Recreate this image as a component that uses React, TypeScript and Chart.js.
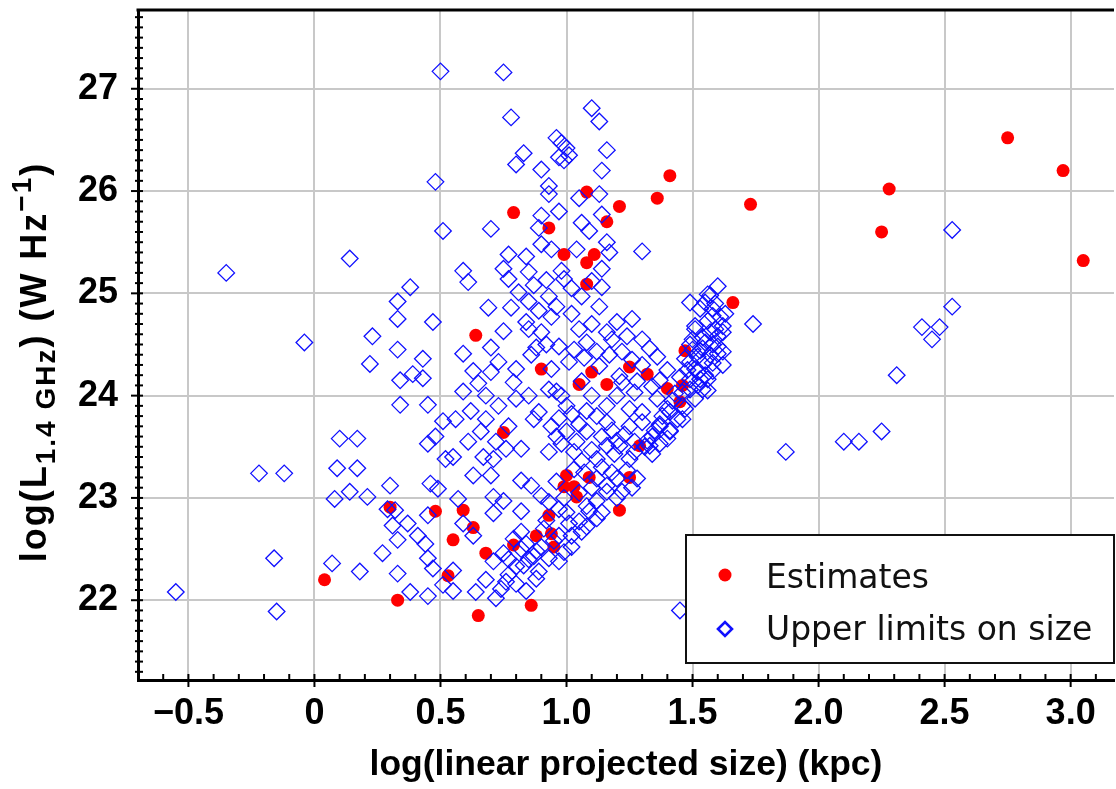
import { useEffect, useRef } from 'react';
import { Chart, registerables } from 'chart.js';

Chart.register(...registerables);

const seriesNames = ['Estimates', 'Upper limits on size'];
const xTickValues = [-0.5, 0, 0.5, 1.0, 1.5, 2.0, 2.5, 3.0];
const xTickLabels = ['−0.5', '0', '0.5', '1.0', '1.5', '2.0', '2.5', '3.0'];
const yTickValues = [22, 23, 24, 25, 26, 27];
const yTickLabels = ['22', '23', '24', '25', '26', '27'];
const xRange = [-0.70, 3.172];
const yRange = [21.22, 27.77];
const xTitle = 'log(linear projected size) (kpc)';

// [log size (kpc), log L_1.4GHz]
const estimates: [number, number][] = [
  [0.04, 22.20], [0.33, 22.00], [0.30, 22.91], [0.48, 22.87],
  [0.53, 22.24], [0.55, 22.59], [0.59, 22.88], [0.63, 22.71], [0.68, 22.46], [0.65, 21.85], [0.86, 21.95],
  [1.00, 23.22], [0.99, 23.11], [1.03, 23.11], [1.04, 23.01], [1.09, 23.20], [1.25, 23.20], [1.29, 23.51],
  [1.21, 22.88], [0.93, 22.83], [0.88, 22.63], [0.94, 22.65], [0.95, 22.52], [0.79, 22.54],
  [0.99, 25.38], [1.08, 25.30], [1.11, 25.38], [1.08, 25.09], [1.66, 24.91], [0.64, 24.59], [0.90, 24.26],
  [1.47, 24.44], [1.25, 24.28], [1.32, 24.21], [1.10, 24.23], [1.05, 24.11], [1.16, 24.11], [1.40, 24.07],
  [1.46, 24.10], [1.45, 23.94], [0.75, 23.64],
  [1.41, 26.15], [1.36, 25.93], [1.21, 25.85], [1.08, 25.99], [0.79, 25.79], [1.73, 25.87], [1.16, 25.70], [0.93, 25.64],
  [2.75, 26.52], [2.28, 26.02], [2.97, 26.20], [2.25, 25.60], [3.05, 25.32],
];

const upperLimits: [number, number][] = [
  // sparse left / top
  [0.50, 27.17], [0.75, 27.16], [0.78, 26.72], [0.80, 26.26], [0.83, 26.37], [0.48, 26.09], [0.51, 25.61], [0.70, 25.63],
  [-0.35, 25.20], [0.14, 25.34], [0.38, 25.06], [0.33, 24.92], [0.33, 24.75], [0.47, 24.72], [0.23, 24.58], [-0.04, 24.52],
  [0.33, 24.45], [0.43, 24.36], [0.22, 24.31], [0.34, 24.15], [0.39, 24.21], [0.43, 24.17], [0.34, 23.91], [0.45, 23.91],
  [0.51, 23.75], [0.10, 23.58], [0.17, 23.58], [0.45, 23.53], [0.48, 23.60],
  [0.52, 23.38], [-0.22, 23.24], [-0.12, 23.24], [0.09, 23.29], [0.17, 23.29], [0.30, 23.12], [0.46, 23.14], [0.49, 23.09],
  [0.08, 22.99], [0.14, 23.06], [0.21, 23.01], [0.29, 22.89], [0.32, 22.88], [0.45, 22.83], [0.31, 22.73], [0.37, 22.75],
  [0.41, 22.63], [0.33, 22.59], [0.44, 22.55], [0.27, 22.46], [0.45, 22.41], [0.47, 22.31], [0.07, 22.36], [-0.16, 22.41],
  [0.18, 22.28], [0.33, 22.26], [0.51, 22.15], [-0.55, 22.08], [0.38, 22.08], [0.45, 22.04], [-0.15, 21.89],
  // upper middle
  [1.10, 26.81], [1.13, 26.68], [0.96, 26.52], [1.00, 26.42], [0.97, 26.33], [1.16, 26.40], [0.98, 26.47], [1.01, 26.35],
  [0.99, 26.30], [0.90, 26.21], [1.14, 26.20], [0.93, 26.05], [0.93, 25.97], [1.05, 25.93], [1.13, 25.97], [0.97, 25.80],
  [0.90, 25.76], [0.89, 25.64], [1.06, 25.69], [1.14, 25.77], [1.09, 25.61],
  // middle
  [0.90, 25.48], [0.94, 25.43], [1.04, 25.43], [1.16, 25.50], [1.17, 25.40], [1.30, 25.41], [0.77, 25.38], [0.84, 25.36],
  [0.59, 25.22], [0.61, 25.11], [0.75, 25.24], [0.77, 25.14], [0.85, 25.21], [0.98, 25.22], [0.99, 25.14], [1.14, 25.24],
  [1.14, 25.06], [1.60, 25.07], [1.56, 24.99], [0.81, 25.01], [0.69, 24.86], [0.78, 24.86], [0.85, 24.92], [0.89, 24.83],
  [0.93, 24.97], [0.96, 24.87], [0.94, 24.77], [1.06, 24.97], [1.13, 24.87], [0.84, 24.72], [1.20, 24.72], [1.26, 24.75],
  [1.49, 24.91], [1.53, 24.85], [1.58, 24.78], [1.74, 24.70], [0.75, 24.63], [0.85, 24.65], [0.90, 24.62], [1.05, 24.65],
  [1.08, 24.52], [0.97, 24.48], [0.70, 24.47], [0.59, 24.41], [1.18, 24.55], [1.24, 24.58], [1.30, 24.55], [1.33, 24.46],
  [1.22, 24.43], [1.12, 24.43], [1.51, 24.68], [1.57, 24.62], [1.60, 24.48], [1.54, 24.46], [1.62, 24.43], [1.49, 24.33],
  [0.73, 24.33], [0.63, 24.24], [0.70, 24.23], [0.80, 24.26], [0.94, 24.26], [1.01, 24.33], [1.13, 24.29], [1.21, 24.19],
  [1.36, 24.38], [1.22, 24.13], [1.28, 24.14], [1.34, 24.09], [1.52, 24.23], [1.56, 24.16], [1.54, 24.06], [1.49, 24.16],
  [0.79, 24.13], [1.06, 24.14], [0.96, 24.04], [0.59, 24.04], [0.68, 24.00], [0.73, 23.90], [0.80, 23.97], [0.85, 24.00],
  [0.89, 23.84], [0.93, 24.06], [0.98, 24.00], [1.00, 23.90], [1.10, 24.00], [1.16, 23.90], [1.20, 24.00], [1.25, 23.87],
  [1.30, 23.84], [1.36, 23.97], [1.41, 23.84], [1.46, 23.90], [0.56, 23.77], [0.68, 23.77], [0.87, 23.77], [0.94, 23.70],
  [1.00, 23.65], [1.08, 23.65], [1.16, 23.74], [1.25, 23.70], [1.30, 23.74], [1.37, 23.70], [1.41, 23.65], [1.46, 23.77],
  [0.87, 25.08], [0.92, 25.13], [1.02, 25.05], [1.10, 25.12], [1.02, 24.80], [1.10, 24.70], [1.16, 24.62], [0.92, 24.50],
  [1.03, 24.45], [1.07, 24.37], [0.86, 24.40], [0.88, 24.47], [1.17, 24.40], [1.26, 24.35], [1.30, 24.30], [1.40, 24.25],
  [1.27, 24.03], [1.37, 24.15], [0.62, 23.85], [0.66, 23.65], [0.72, 23.55], [0.61, 23.55], [0.77, 23.70], [0.65, 24.12],
  [0.97, 23.78], [1.02, 23.82], [1.05, 23.72], [1.08, 23.85], [1.12, 23.80], [1.14, 23.60], [1.18, 23.66], [1.20, 23.56],
  [1.23, 23.62], [1.27, 23.55], [1.03, 23.45], [0.96, 23.60], [1.10, 23.47], [1.19, 23.43], [1.27, 23.45],
  // steep band
  [1.57, 24.98], [1.55, 24.91], [1.58, 24.85], [1.61, 24.77], [1.56, 24.73], [1.51, 24.65], [1.59, 24.65], [1.54, 24.57],
  [1.49, 24.50], [1.58, 24.50], [1.53, 24.44], [1.60, 24.41], [1.47, 24.36], [1.55, 24.34], [1.51, 24.26], [1.58, 24.24],
  [1.45, 24.18], [1.53, 24.16], [1.49, 24.06], [1.56, 24.05], [1.43, 24.02], [1.51, 23.97], [1.47, 23.87], [1.40, 23.87],
  [1.44, 23.77], [1.37, 23.72], [1.41, 23.66], [1.34, 23.60], [1.37, 23.53], [1.31, 23.50], [1.34, 23.43],
  [1.62, 24.62], [1.63, 24.80], [1.57, 24.40], [1.52, 24.10], [1.62, 24.30], [1.50, 24.55],
  [1.59, 24.90], [1.60, 24.58], [1.55, 24.52], [1.52, 24.38], [1.58, 24.32], [1.48, 24.25], [1.46, 24.03], [1.42, 23.95],
  [1.38, 23.80], [1.35, 23.66], [1.32, 23.56], [1.62, 24.68], [1.55, 24.20], [1.50, 24.45],
  // lower band
  [0.55, 23.40], [0.67, 23.40], [0.71, 23.38], [0.76, 23.48], [0.82, 23.48], [0.93, 23.45], [0.98, 23.53], [1.04, 23.55],
  [1.06, 23.36], [1.12, 23.38], [1.16, 23.51], [1.21, 23.51], [1.25, 23.38], [1.33, 23.51], [1.40, 23.58],
  [0.63, 23.22], [0.70, 23.22], [0.82, 23.17], [0.86, 23.12], [0.96, 23.16], [1.12, 23.19], [1.16, 23.12], [1.20, 23.19],
  [1.28, 23.19], [1.22, 23.06], [1.16, 23.06], [0.71, 23.01], [0.75, 22.97], [0.57, 22.99], [1.12, 22.97], [1.08, 22.92],
  [0.90, 23.02], [0.93, 22.96], [0.71, 22.85], [0.82, 22.87], [0.97, 22.89], [1.00, 22.86], [1.09, 22.87], [1.14, 22.86],
  [0.92, 22.78], [1.01, 22.75], [1.05, 22.77], [1.08, 22.72], [1.12, 22.80], [0.59, 22.75], [0.63, 22.63], [0.82, 22.67],
  [0.91, 22.70], [0.97, 22.63], [1.02, 22.63], [1.06, 22.67], [0.79, 22.60], [0.75, 22.46], [0.82, 22.50], [0.87, 22.43],
  [0.93, 22.41], [1.02, 22.52], [0.99, 22.47], [0.71, 22.38], [0.83, 22.34], [0.89, 22.28], [0.97, 22.38], [0.55, 22.29],
  [0.55, 22.09], [0.64, 22.08], [0.72, 22.02], [0.74, 22.11], [0.80, 22.16], [0.84, 22.09], [0.88, 22.21], [1.45, 21.90],
  [1.03, 23.28], [1.07, 23.25], [1.14, 23.30], [1.18, 23.25], [1.24, 23.27], [1.05, 23.05], [1.10, 23.10], [1.20, 23.00],
  [1.26, 23.10], [0.99, 23.00], [0.77, 22.25], [0.80, 22.33], [0.85, 22.40], [0.88, 22.48], [0.77, 22.40], [0.84, 22.55],
  [0.95, 22.58], [0.90, 22.52], [0.68, 22.20], [0.76, 22.18],
  // far right
  [1.87, 23.45], [2.10, 23.55], [2.16, 23.55], [2.25, 23.65], [2.31, 24.20], [2.41, 24.67], [2.45, 24.55], [2.48, 24.67],
  [2.53, 24.87], [2.53, 25.62],
];

const RED = '#ff0000';
const BLUE = '#1010ff';
const TICK_FONT = '"Liberation Sans", Arial, sans-serif';
const LEGEND_FONT = '"DejaVu Sans", sans-serif';

export default function App() {
  const ref = useRef<HTMLCanvasElement>(null);

  useEffect(() => {
    document.body.style.margin = '0';
    const canvas = ref.current!;

    const decor = {
      id: 'decor',
      afterDraw(chart: any) {
        const { ctx, chartArea: a, scales } = chart;
        const xs = scales.x;
        const ys = scales.y;
        ctx.save();
        ctx.strokeStyle = '#000';
        // top frame
        ctx.lineWidth = 3;
        ctx.beginPath();
        ctx.moveTo(a.left - 1.5, a.top);
        ctx.lineTo(a.right, a.top);
        ctx.stroke();
        // ticks
        ctx.lineWidth = 2;
        for (let k = Math.ceil(xRange[0] * 10); k <= Math.floor(xRange[1] * 10); k++) {
          const px = xs.getPixelForValue(k / 10);
          const major = k % 5 === 0;
          ctx.beginPath();
          ctx.moveTo(px, a.bottom + (major ? 7 : 0));
          ctx.lineTo(px, a.bottom - 6);
          ctx.stroke();
        }
        for (let k = Math.ceil(yRange[0] * 10); k <= Math.floor(yRange[1] * 10); k++) {
          const py = ys.getPixelForValue(k / 10);
          const major = k % 10 === 0;
          ctx.beginPath();
          ctx.moveTo(a.left - (major ? 7 : 3), py);
          ctx.lineTo(a.left + 5, py);
          ctx.stroke();
        }
        ctx.restore();

        // y-axis title with subscript / superscript
        const size = 36;
        const small = 28;
        const pieces = [
          { t: 'log(L', s: size, dy: 0 },
          { t: '1.4 GHz', s: small, dy: 9 },
          { t: ') (W Hz', s: size, dy: 0 },
          { t: '−1', s: small, dy: -15 },
          { t: ')', s: size, dy: 0 },
        ];
        ctx.save();
        ctx.fillStyle = '#000';
        ctx.textBaseline = 'alphabetic';
        (ctx as any).letterSpacing = '2px';
        let total = 0;
        const widths: number[] = [];
        for (const p of pieces) {
          ctx.font = `bold ${p.s}px ${TICK_FONT}`;
          const w = ctx.measureText(p.t).width;
          widths.push(w);
          total += w;
        }
        ctx.translate(46, (a.top + a.bottom) / 2 + 17);
        ctx.rotate(-Math.PI / 2);
        let cx = -total / 2;
        pieces.forEach((p, i) => {
          ctx.font = `bold ${p.s}px ${TICK_FONT}`;
          ctx.fillText(p.t, cx, p.dy);
          cx += widths[i];
        });
        ctx.restore();

        // legend box
        const right = a.right;
        const bottom = a.bottom - 17;
        const left = right - 428;
        const top = bottom - 128;
        ctx.save();
        ctx.fillStyle = '#fff';
        ctx.fillRect(left, top, right - left, bottom - top);
        ctx.strokeStyle = '#111';
        ctx.lineWidth = 2;
        ctx.strokeRect(left, top, right - left, bottom - top);
        const mx = left + 39;
        const y1 = top + 40;
        const y2 = top + 94;
        ctx.fillStyle = RED;
        ctx.beginPath();
        ctx.arc(mx, y1, 6.5, 0, Math.PI * 2);
        ctx.fill();
        ctx.strokeStyle = BLUE;
        ctx.lineWidth = 2.6;
        ctx.beginPath();
        ctx.moveTo(mx - 7, y2);
        ctx.lineTo(mx, y2 - 7);
        ctx.lineTo(mx + 7, y2);
        ctx.lineTo(mx, y2 + 7);
        ctx.closePath();
        ctx.stroke();
        ctx.fillStyle = '#111';
        ctx.font = `33px ${LEGEND_FONT}`;
        ctx.textBaseline = 'alphabetic';
        ctx.fillText(seriesNames[0], left + 80, y1 + 13);
        ctx.fillText(seriesNames[1], left + 80, y2 + 11);
        ctx.restore();
      },
    };

    const chart = new Chart(canvas, {
      type: 'scatter',
      data: {
        datasets: [
          {
            label: seriesNames[1],
            data: upperLimits.map(([x, y]) => ({ x, y })),
            pointStyle: 'rectRot',
            radius: 8.3,
            borderWidth: 1.3,
            borderColor: BLUE,
            backgroundColor: 'rgba(0,0,0,0)',
          },
          {
            label: seriesNames[0],
            data: estimates.map(([x, y]) => ({ x, y })),
            pointStyle: 'circle',
            radius: 6.5,
            borderWidth: 0,
            backgroundColor: RED,
            borderColor: RED,
          },
        ],
      },
      options: {
        responsive: false,
        animation: false,
        events: [],
        layout: { autoPadding: false, padding: { left: 0, top: 10, right: 2, bottom: 0 } },
        plugins: { legend: { display: false }, tooltip: { enabled: false } },
        scales: {
          x: {
            type: 'linear',
            min: xRange[0],
            max: xRange[1],
            afterBuildTicks: (s: any) => {
              s.ticks = xTickValues.map((v) => ({ value: v }));
            },
            afterFit: (s: any) => {
              s.height = 109;
              s.paddingLeft = 0;
              s.paddingRight = 0;
            },
            ticks: {
              autoSkip: false,
              maxRotation: 0,
              padding: 12,
              color: '#000',
              font: { family: TICK_FONT, size: 36, weight: 'bold' },
              callback: (v: any) => {
                const i = xTickValues.indexOf(Number(v));
                return i >= 0 ? xTickLabels[i] : '';
              },
            },
            grid: { color: '#c8c8c8', lineWidth: 2, drawTicks: false },
            border: { color: '#000', width: 3 },
            title: {
              display: true,
              text: xTitle,
              color: '#000',
              font: { family: TICK_FONT, size: 35.5, weight: 'bold' },
              padding: { top: 0, bottom: 2 },
            },
          },
          y: {
            type: 'linear',
            min: yRange[0],
            max: yRange[1],
            afterBuildTicks: (s: any) => {
              s.ticks = yTickValues.map((v) => ({ value: v }));
            },
            afterFit: (s: any) => {
              s.width = 138;
              s.paddingTop = 0;
              s.paddingBottom = 0;
            },
            ticks: {
              autoSkip: false,
              padding: 20,
              color: '#000',
              font: { family: TICK_FONT, size: 36, weight: 'bold' },
              callback: (v: any) => {
                const i = yTickValues.indexOf(Number(v));
                return i >= 0 ? yTickLabels[i] : '';
              },
            },
            grid: { color: '#c8c8c8', lineWidth: 2, drawTicks: false },
            border: { color: '#000', width: 3 },
          },
        },
      },
      plugins: [decor],
    });

    return () => chart.destroy();
  }, []);

  return <canvas ref={ref} width={1116} height={789} style={{ display: 'block' }} />;
}
